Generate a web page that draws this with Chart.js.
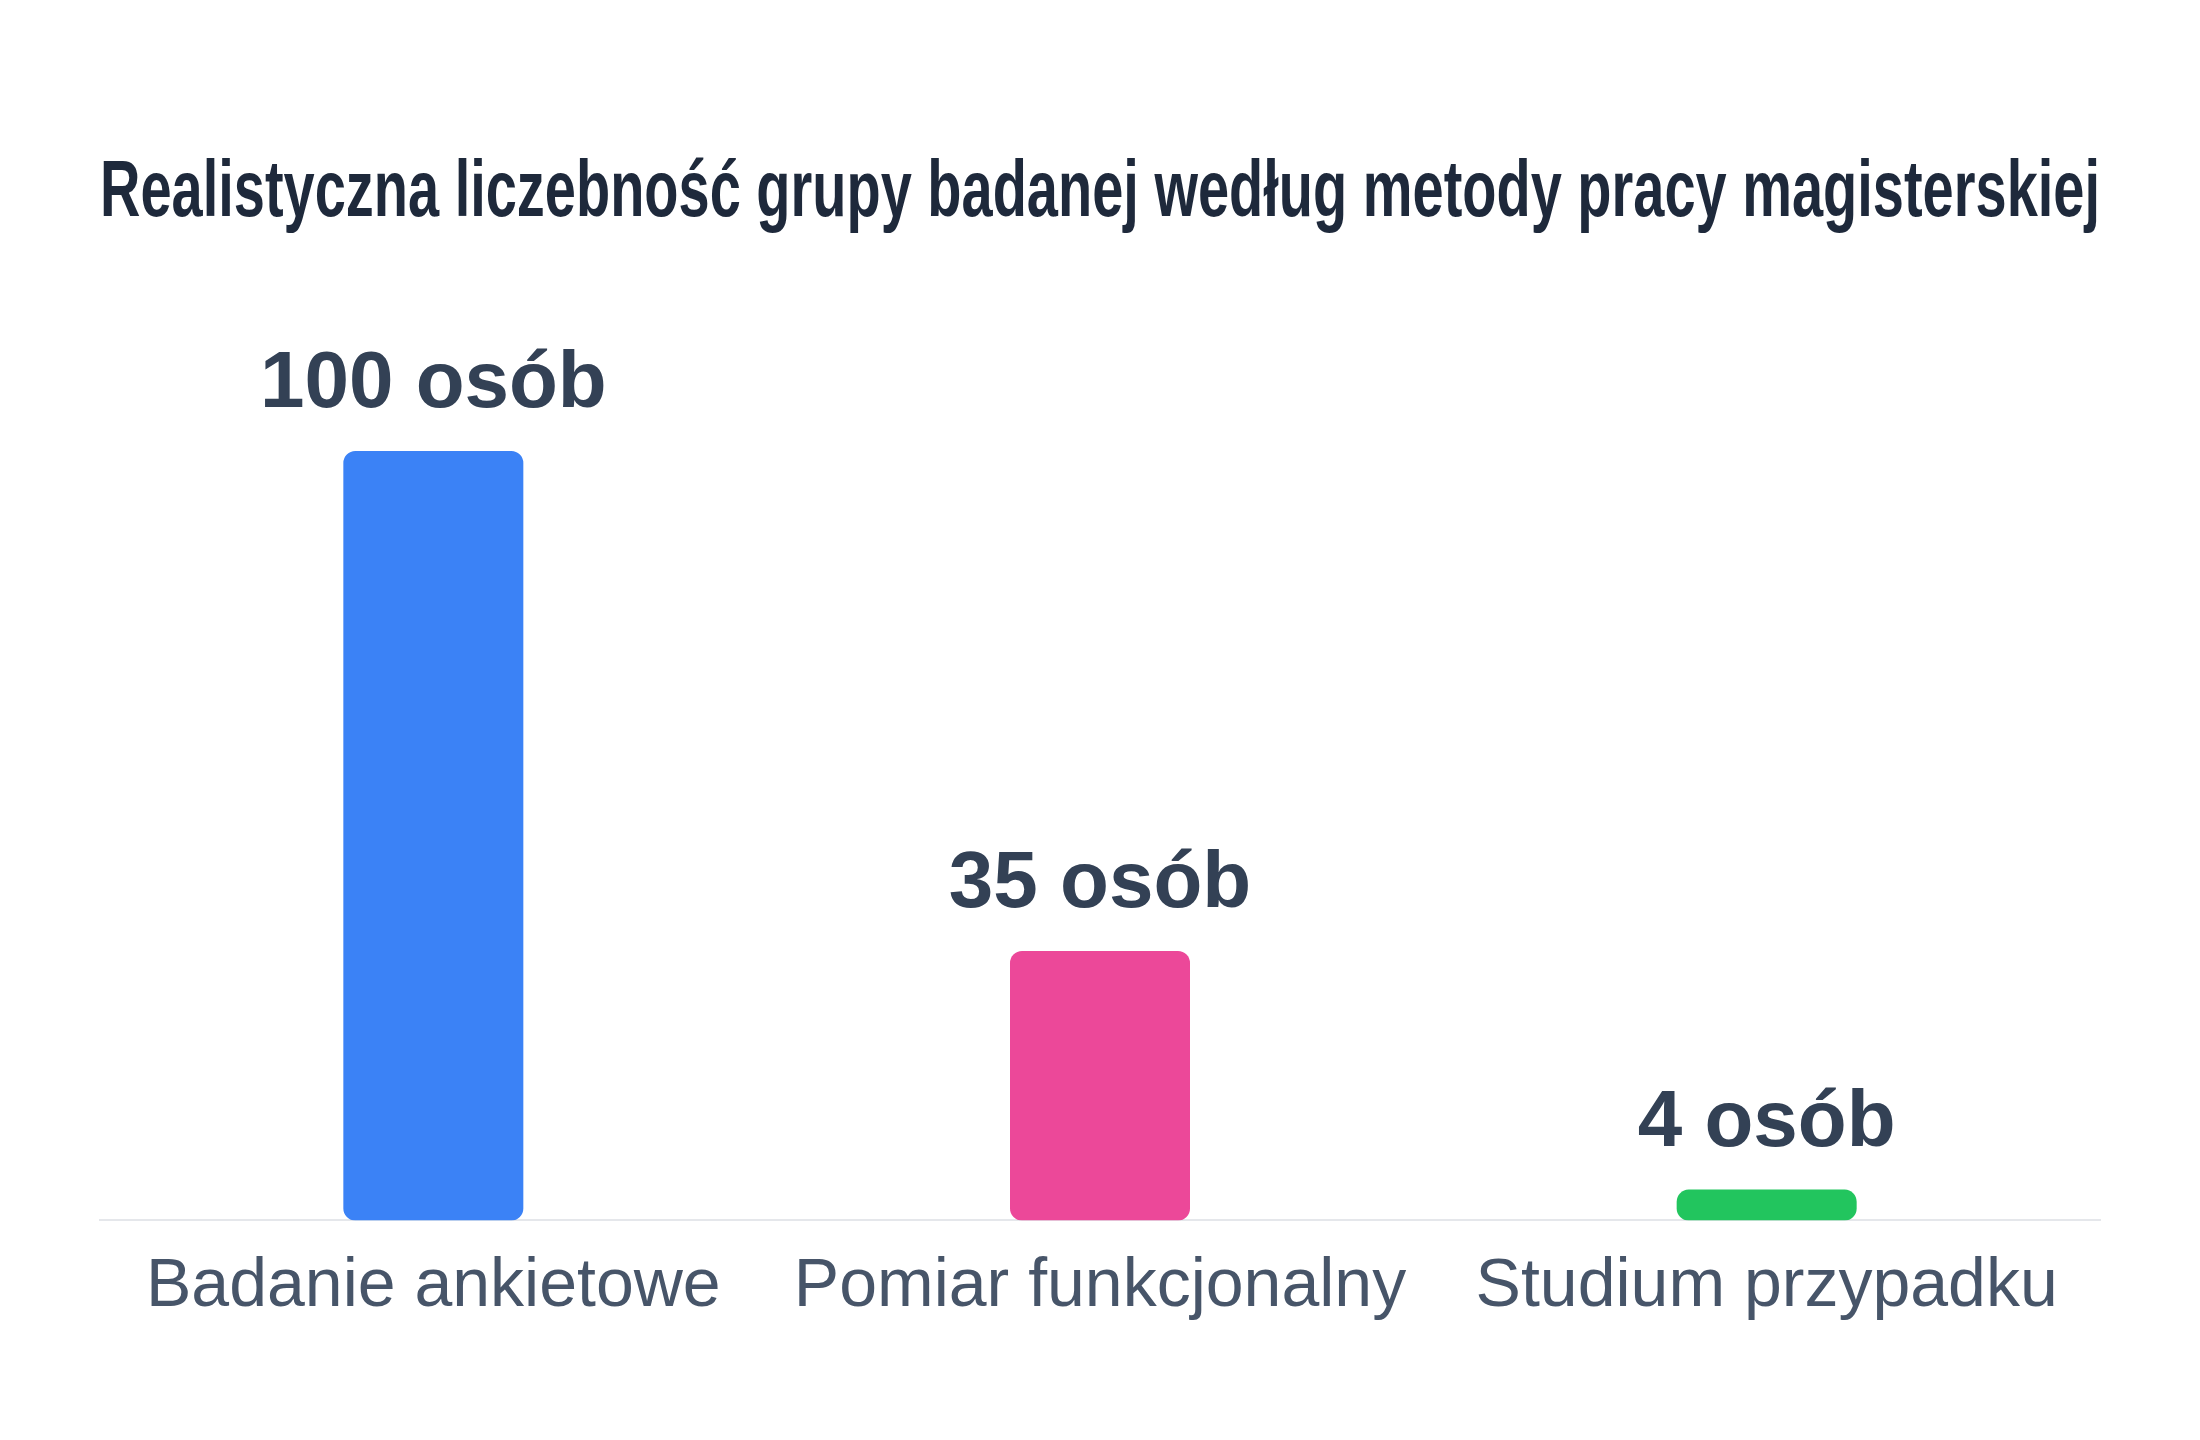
<!DOCTYPE html>
<html lang="pl">
<head>
<meta charset="utf-8">
<title>Liczebność grupy badanej</title>
<script src="https://cdn.jsdelivr.net/npm/chart.js@4.4.1/dist/chart.umd.min.js"></script>
<style>
    html, body { margin: 0; padding: 0; background: #ffffff; }
    .chart-box { width: 2200px; height: 1440px; position: relative; }
</style>
</head>
<body>
<div class="chart-box">
    <canvas id="sampleChart"></canvas>
</div>
<script>
// Data
const methods = ['Badanie ankietowe', 'Pomiar funkcjonalny', 'Studium przypadku'];
const groupSizes = [100, 35, 4];
const barColors = ['#3b82f6', '#ec4899', '#22c55e'];
const valueSuffix = ' osób';
const chartTitle = 'Realistyczna liczebność grupy badanej według metody pracy magisterskiej';

// Draw value labels above each bar
const valueLabels = {
    id: 'valueLabels',
    afterDatasetsDraw(chart) {
        const ctx = chart.ctx;
        const meta = chart.getDatasetMeta(0);
        ctx.save();
        ctx.font = 'bold 80px "Liberation Sans", Arial, sans-serif';
        ctx.fillStyle = '#334155';
        ctx.textAlign = 'center';
        ctx.textBaseline = 'alphabetic';
        meta.data.forEach((bar, i) => {
            ctx.fillText(groupSizes[i] + valueSuffix, bar.x, bar.y - 44);
        });
        ctx.restore();
    }
};

const ctx = document.getElementById('sampleChart').getContext('2d');
const sampleChart = new Chart(ctx, {
    type: 'bar',
    data: {
        labels: methods,
        datasets: [{
            data: groupSizes,
            backgroundColor: barColors,
            borderRadius: 12,
            borderSkipped: false,
            barPercentage: 0.3,
            categoryPercentage: 0.9
        }]
    },
    options: {
        responsive: true,
        maintainAspectRatio: false,
        animation: false,
        layout: {
            padding: { top: 100, left: 100, right: 100, bottom: 94 }
        },
        plugins: {
            legend: { display: false },
            tooltip: { enabled: false },
            title: {
                display: true,
                text: chartTitle,
                color: '#1e293b',
                font: { family: '"Liberation Sans", Arial, sans-serif', size: 80, weight: 'bold' },
                padding: { top: 46, bottom: 55 }
            }
        },
        scales: {
            x: {
                grid: { display: false },
                border: { display: true, color: '#e5e7eb', width: 2 },
                ticks: {
                    color: '#475569',
                    padding: 18,
                    font: { family: '"Liberation Sans", Arial, sans-serif', size: 68 }
                }
            },
            y: {
                display: false,
                beginAtZero: true,
                max: 120
            }
        }
    },
    plugins: [valueLabels]
});
</script>
</body>
</html>
